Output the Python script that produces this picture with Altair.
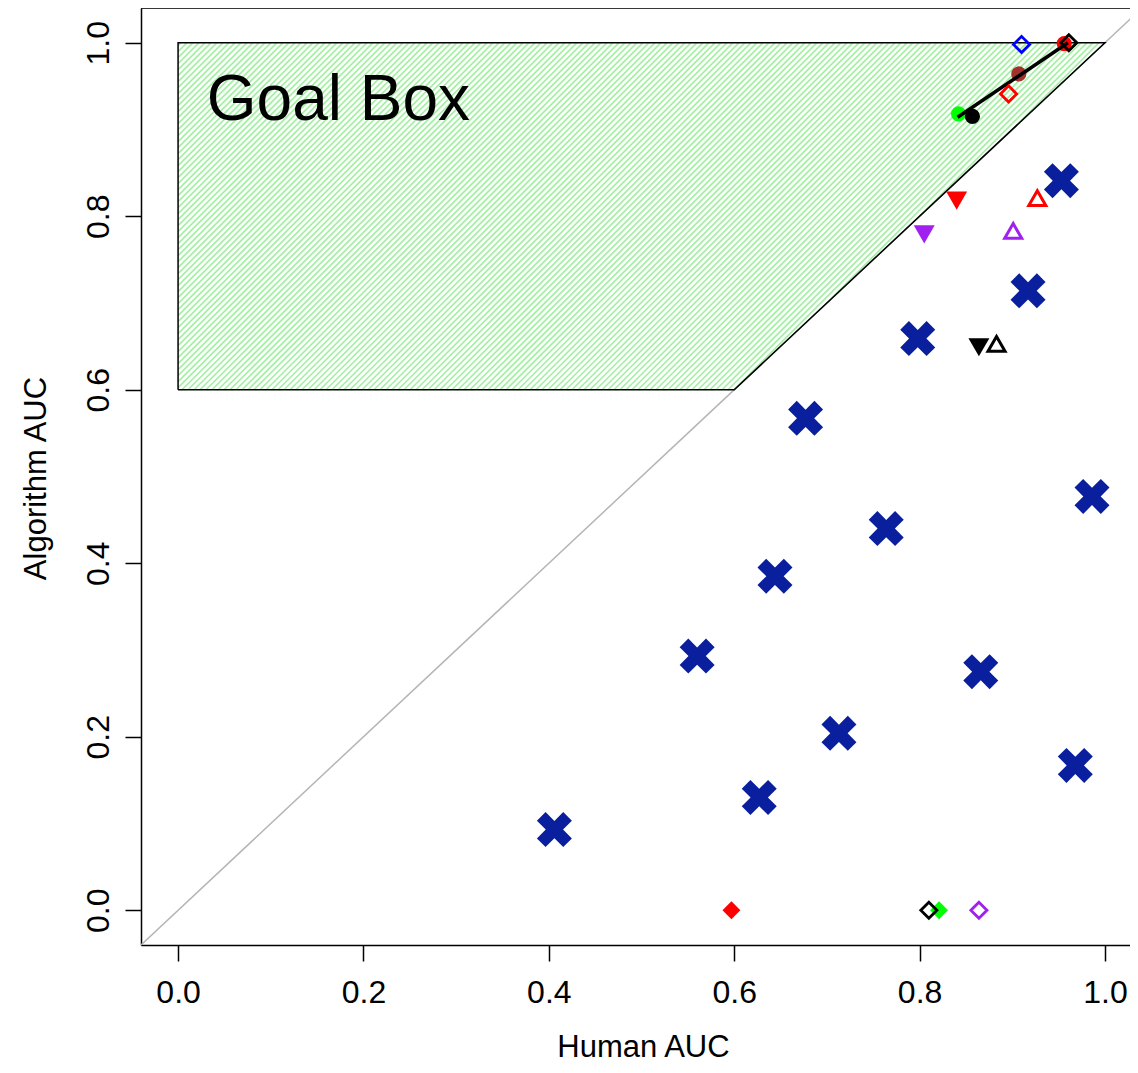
import altair as alt
import pandas as pd

# ---------------- data ----------------
# blue "X" markers (Human AUC, Algorithm AUC)
blue_x = [0.406, 0.560, 0.627, 0.644, 0.677, 0.713, 0.764, 0.798, 0.866, 0.917, 0.953, 0.968, 0.986]
blue_y = [0.093, 0.293, 0.130, 0.385, 0.567, 0.204, 0.440, 0.659, 0.275, 0.714, 0.841, 0.167, 0.477]

# filled circles
circ_x = [0.842, 0.857, 0.956, 0.907]
circ_y = [0.918, 0.915, 0.999, 0.964]
circ_g = ["green", "black", "red", "brown"]

# filled down-triangles
tdn_x = [0.840, 0.805, 0.864]
tdn_y = [0.818, 0.779, 0.649]
tdn_g = ["red", "purple", "black"]

# open up-triangles
tup_x = [0.927, 0.901, 0.883]
tup_y = [0.821, 0.783, 0.653]
tup_g = ["red", "purple", "black"]

# filled diamonds
dfill_x = [0.597, 0.821]
dfill_y = [0.0, 0.0]
dfill_g = ["red", "green"]

# open diamonds
dopen_x = [0.910, 0.896, 0.961, 0.810, 0.864]
dopen_y = [0.998, 0.941, 1.000, 0.0, 0.0]
dopen_g = ["blue", "red", "black", "black", "purple"]

# connecting segment
seg_x = [0.841, 0.960]
seg_y = [0.914, 1.000]

# goal box polygon
goal_x = [0.0, 0.0, 1.0, 0.6]
goal_y = [0.6, 1.0, 1.0, 0.6]
goal_label = "Goal Box"
goal_label_x = [0.031]
goal_label_y = [0.911]

tick_vals = [0.0, 0.2, 0.4, 0.6, 0.8, 1.0]
groups = ["red", "green", "black", "purple", "blue", "brown"]
group_colors = ["#ff0000", "#00ff00", "#000000", "#a020f0", "#0000ff", "#a0342c"]

# ---------------- layout ----------------
W, H = 989, 937
XD = [-0.04, 1.027]
YD = [-0.04, 1.04]
FONT = "Liberation Sans"

xs = alt.Scale(domain=XD, nice=False, zero=False)
ys = alt.Scale(domain=YD, nice=False, zero=False)

xaxis = alt.Axis(values=tick_vals, format=".1f", grid=False, labelFlush=False,
                 labelFontSize=32, labelFont=FONT, labelColor="black",
                 labelBaseline="alphabetic", labelPadding=41,
                 tickSize=16, tickColor="black", tickWidth=1.5,
                 domainColor="black", domainWidth=1.5,
                 title="Human AUC", titleFontSize=31, titleFont=FONT,
                 titleFontWeight="normal", titleColor="black",
                 titleX=502, titleY=111, titleAlign="center",
                 titleBaseline="alphabetic")
yaxis = alt.Axis(values=tick_vals, format=".1f", grid=False, labelFlush=False,
                 labelFontSize=32, labelFont=FONT, labelColor="black",
                 labelAngle=270, labelAlign="center", labelBaseline="alphabetic",
                 labelPadding=17,
                 tickSize=16, tickColor="black", tickWidth=1.5,
                 domainColor="black", domainWidth=1.5,
                 title="Algorithm AUC", titleFontSize=31, titleFont=FONT,
                 titleFontWeight="normal", titleColor="black",
                 titleAngle=270, titleX=-96, titleY=470, titleAlign="center",
                 titleBaseline="alphabetic")


def X(f="x"):
    return alt.X(f"{f}:Q", scale=xs, axis=xaxis)


def Y(f="y"):
    return alt.Y(f"{f}:Q", scale=ys, axis=yaxis)


color_enc = alt.Color("g:N", scale=alt.Scale(domain=groups, range=group_colors), legend=None)

# ---------------- hatch lines for goal box (45 degrees in screen space) ----------------
sx = W / (XD[1] - XD[0])
sy = H / (YD[1] - YD[0])
pu = [(x - XD[0]) * sx for x in goal_x]
pv = [(y - YD[0]) * sy for y in goal_y]
dd = [u - v for u, v in zip(pu, pv)]
step = 6.0
rows = []
k = min(dd) + step / 2
n = len(pu)
while k < max(dd):
    pts = []
    for j in range(n):
        a, b = j, (j + 1) % n
        fa, fb = dd[a] - k, dd[b] - k
        if fa * fb < 0:
            t = fa / (fa - fb)
            pts.append((pu[a] + t * (pu[b] - pu[a]), pv[a] + t * (pv[b] - pv[a])))
    if len(pts) >= 2:
        pts.sort()
        (u1, v1), (u2, v2) = pts[0], pts[-1]
        rows.append(dict(x=u1 / sx + XD[0], y=v1 / sy + YD[0],
                         x2=u2 / sx + XD[0], y2=v2 / sy + YD[0]))
    k += step
hatch_df = pd.DataFrame(rows)

hatch = alt.Chart(hatch_df).mark_rule(color="#a6eea6", strokeWidth=1.7).encode(
    x=X(), y=Y(), x2="x2:Q", y2="y2:Q")

poly_df = pd.DataFrame({"x": goal_x + goal_x[:1], "y": goal_y + goal_y[:1],
                        "i": list(range(len(goal_x) + 1))})
poly = alt.Chart(poly_df).mark_line(color="black", strokeWidth=1.5).encode(
    x=X(), y=Y(), order="i:Q")

diag_df = pd.DataFrame({"x": [YD[0], YD[1]], "y": [YD[0], YD[1]]})
diag = alt.Chart(diag_df).mark_line(color="#b5b5b5", strokeWidth=1.5, clip=True).encode(
    x=X(), y=Y())

top_border = alt.Chart(pd.DataFrame({"a": [0]})).mark_rule(color="black", strokeWidth=1.5).encode(
    x=alt.value(0), x2=alt.value(W), y=alt.value(0))

label = alt.Chart(pd.DataFrame({"x": goal_label_x, "y": goal_label_y, "t": [goal_label]})).mark_text(
    font=FONT, fontSize=64, align="left", baseline="alphabetic", color="black").encode(
    x=X(), y=Y(), text="t:N")

X_PATH = ("M0.505,1L1,0.505L0.495,0L1,-0.505L0.505,-1L0,-0.495L-0.505,-1L-1,-0.505"
          "L-0.495,0L-1,0.505L-0.505,1L0,0.495Z")
blue = alt.Chart(pd.DataFrame({"x": blue_x, "y": blue_y})).mark_point(
    shape=X_PATH, filled=True, size=1225, color="#0a1f9e", opacity=1).encode(x=X(), y=Y())

circ = alt.Chart(pd.DataFrame({"x": circ_x, "y": circ_y, "g": circ_g})).mark_point(
    shape="circle", filled=True, size=230, opacity=1).encode(x=X(), y=Y(), color=color_enc)

tdn = alt.Chart(pd.DataFrame({"x": tdn_x, "y": tdn_y, "g": tdn_g})).mark_point(
    shape="triangle-down", filled=True, size=440, opacity=1).encode(x=X(), y=Y(), color=color_enc)

tup = alt.Chart(pd.DataFrame({"x": tup_x, "y": tup_y, "g": tup_g})).mark_point(
    shape="triangle-up", filled=False, size=290, strokeWidth=3, opacity=1).encode(
    x=X(), y=Y(), color=color_enc)

dfill = alt.Chart(pd.DataFrame({"x": dfill_x, "y": dfill_y, "g": dfill_g})).mark_point(
    shape="diamond", filled=True, size=320, opacity=1).encode(x=X(), y=Y(), color=color_enc)

dopen = alt.Chart(pd.DataFrame({"x": dopen_x, "y": dopen_y, "g": dopen_g})).mark_point(
    shape="diamond", filled=False, size=260, strokeWidth=2.8, opacity=1).encode(
    x=X(), y=Y(), color=color_enc)

seg = alt.Chart(pd.DataFrame({"x": seg_x, "y": seg_y})).mark_line(
    color="black", strokeWidth=3.5).encode(x=X(), y=Y())

chart = alt.layer(
    hatch, diag, poly, label, top_border, blue, dfill, circ, seg, dopen, tdn, tup
).properties(
    width=W, height=H,
    autosize=alt.AutoSizeParams(type="none"),
    padding={"left": 133, "top": 0, "right": 0, "bottom": 120},
    background="white",
).configure_view(stroke="transparent").configure(font=FONT)

chart.save("out.html", embed_options={"renderer": "svg", "actions": False})
